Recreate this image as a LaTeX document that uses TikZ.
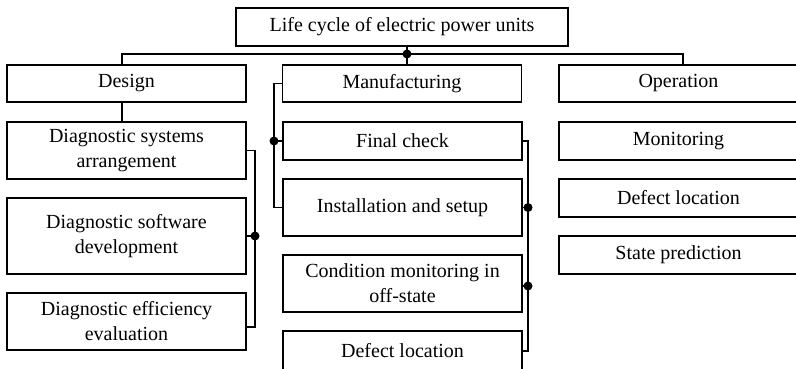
\documentclass[tikz,border=0pt]{standalone}
\usepackage{fontspec}
\setmainfont{Liberation Serif}
\begin{document}
\begin{tikzpicture}[x=1pt,y=-1pt,
  box/.style={draw, line width=1.8pt, inner sep=0pt, align=center,
    font=\fontsize{20}{25}\selectfont, minimum width=239pt},
  wire/.style={line width=1.8pt},
  dot/.style={circle, fill, inner sep=0pt, minimum size=9pt}]
\useasboundingbox (0,0) rectangle (796,368);
\clip (0,0) rectangle (796,368);
% top
\node[box, minimum width=332pt, minimum height=38pt] (top) at (402,27) {Life cycle of electric power units};
% level 1
\node[box, minimum height=37pt] (design) at (126.5,83.5) {Design};
\node[box, minimum height=37pt] (manuf) at (402,83.5) {Manufacturing};
\node[box, minimum height=37pt] (oper) at (678.5,83.5) {Operation};
% design children
\node[box, minimum height=57pt] (d1) at (126.5,150.5) {Diagnostic systems\\arrangement};
\node[box, minimum height=76pt] (d2) at (126.5,236) {Diagnostic software\\development};
\node[box, minimum height=57pt] (d3) at (126.5,321.5) {Diagnostic efficiency\\evaluation};
% manufacturing children
\node[box, minimum height=38pt] (m1) at (402.5,141) {Final check};
\node[box, minimum height=57pt] (m2) at (402.5,207.5) {Installation and setup};
\node[box, minimum height=57pt] (m3) at (402.5,283.5) {Condition monitoring in\\off-state};
\node[box, minimum height=40pt] (m4) at (402.5,351) {Defect location};
% operation children
\node[box, minimum height=38pt] (o1) at (678.5,141) {Monitoring};
\node[box, minimum height=38pt] (o2) at (678.5,198) {Defect location};
\node[box, minimum height=38pt] (o3) at (678.5,255) {State prediction};
% helper coordinates
\coordinate (j) at (407,54);
\coordinate (dx) at (122,0);
\coordinate (ox) at (683,0);
\coordinate (db) at (255,0);
\coordinate (mb) at (274,0);
\coordinate (rb) at (528,0);
\coordinate (d3e) at ([yshift=-5.5pt]d3.east);
\coordinate (m3e) at ([yshift=-2.5pt]m3.east);
% bus
\draw[wire] (top.south -| j) -- (manuf.north -| j);
\draw[wire] (design.north -| dx) |- (j) -| (oper.north -| ox);
\node[dot] at (j) {};
\draw[wire] (design.south -| dx) -- (d1.north -| dx);
% design bracket
\draw[wire] (d1.east) -| (db |- d3e) -- (d3e);
\draw[wire] (d2.east) -- (d2.east -| db) node[dot] {};
% manufacturing left bracket
\draw[wire] (manuf.west) -| (mb |- m2.west) -- (m2.west);
\draw[wire] (m1.west) -- (m1.west -| mb) node[dot] {};
% manufacturing right bracket
\draw[wire] (m1.east) -| (rb |- m4.east) -- (m4.east);
\draw[wire] (m2.east) -- (m2.east -| rb) node[dot] {};
\draw[wire] (m3e) -- (m3e -| rb) node[dot] {};
\end{tikzpicture}
\end{document}
